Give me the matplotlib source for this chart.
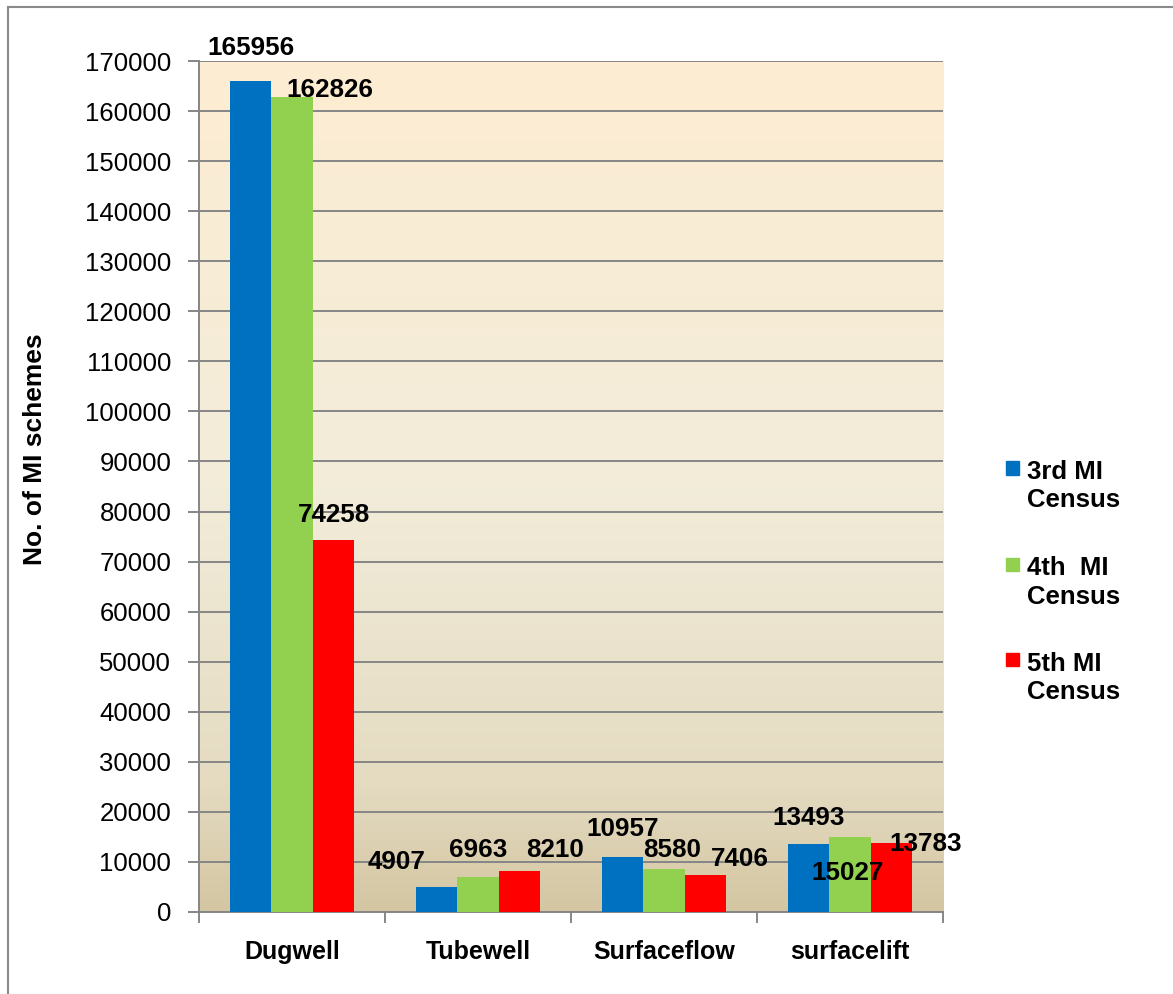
import numpy as np
import matplotlib
matplotlib.use("Agg")
import matplotlib.pyplot as plt
from matplotlib.colors import LinearSegmentedColormap
from matplotlib.patches import Rectangle
from matplotlib.lines import Line2D

# -------------------------
# dados
# -------------------------
categorias = ["Dugwell", "Tubewell", "Surfaceflow", "surfacelift"]
censo_3 = [165956, 4907, 10957, 13493]
censo_4 = [162826, 6963, 8580, 15027]
censo_5 = [74258, 8210, 7406, 13783]
series_nomes = ["3rd MI\nCensus", "4th  MI\nCensus", "5th MI\nCensus"]
y_ticks = list(range(0, 170001, 10000))

cores = ["#0070C0", "#92D050", "#FF0000"]

# deslocamento dos rótulos (px) em relação ao topo da barra, como no original
offsets = [
    [(0, 33), (-40, 25), (0, 28), (0, 26)],
    [(38, 7), (0, 27), (8, 19), (-3, -36)],
    [(0, 25), (36, 21), (34, 16), (34, -1)],
]

plt.rcParams["font.family"] = ["Liberation Sans", "DejaVu Sans"]

fig = plt.figure(figsize=(11.73, 9.94), dpi=100)
ax = fig.add_axes([0.1697, 0.0825, 0.6343, 0.8561])

# fundo em degradê
grad = LinearSegmentedColormap.from_list(
    "fundo",
    [(0.0, (212/255, 198/255, 162/255)),
     (0.15, (228/255, 219/255, 193/255)),
     (0.5, (242/255, 236/255, 218/255)),
     (1.0, (253/255, 237/255, 210/255))])
ax.imshow(np.linspace(0, 1, 256).reshape(-1, 1), cmap=grad, origin="lower",
          aspect="auto", extent=[0, 1, 0, 1], transform=ax.transAxes, zorder=0)

x = np.arange(len(categorias))
larg = 0.223
todas = [censo_3, censo_4, censo_5]
px2pt = 72 / fig.dpi
for i, (vals, cor) in enumerate(zip(todas, cores)):
    pos = x + (i - 1) * larg
    ax.bar(pos, vals, width=larg, color=cor, zorder=3)
    for j, v in enumerate(vals):
        dx, dy = offsets[i][j]
        ax.annotate(str(v), xy=(pos[j], v), xytext=(dx * px2pt, dy * px2pt),
                    textcoords="offset points", ha="center", va="center",
                    fontsize=18.7, fontweight="bold", zorder=5,
                    annotation_clip=False)

ax.set_xlim(-0.5, len(categorias) - 0.5)
ax.set_ylim(0, 170000)
ax.set_yticks(y_ticks)
ax.set_yticklabels([str(t) for t in y_ticks], fontsize=18.5)
ax.yaxis.grid(True, color="#868686", linewidth=1.4, zorder=1)
ax.set_axisbelow(True)

ax.set_xticks(x)
ax.set_xticklabels(categorias, fontsize=18, fontweight="bold")
ax.set_xticks(np.arange(-0.5, len(categorias), 1), minor=True)
ax.tick_params(axis="x", which="major", length=0, pad=20)
ax.tick_params(axis="x", which="minor", length=8, color="#868686", width=1.4, direction="out")
ax.tick_params(axis="y", length=8, color="#868686", width=1.4, pad=12)

for s in ["top", "right"]:
    ax.spines[s].set_visible(False)
for s in ["left", "bottom"]:
    ax.spines[s].set_color("#868686")
    ax.spines[s].set_linewidth(1.4)

fig.text(0.030, 0.548, "No. of MI schemes", rotation=90, ha="center", va="center",
         fontsize=19, fontweight="bold")

# legenda
leg_y = [0.529, 0.432, 0.336]
for nome, cor, yy in zip(series_nomes, cores, leg_y):
    fig.patches.append(Rectangle((0.8576, yy - 0.0065), 0.0115, 0.0135,
                                 transform=fig.transFigure, color=cor))
    fig.text(0.8755, yy + 0.0085, nome, ha="left", va="top", fontsize=18.5,
             fontweight="bold", linespacing=1.25)

# moldura externa
fig.add_artist(Line2D([0.0072, 1.0], [0.9925, 0.9925], color="#8a8a8a", linewidth=1.5,
                      transform=fig.transFigure))
fig.add_artist(Line2D([0.0072, 0.0072], [0.0, 0.9925], color="#8a8a8a", linewidth=1.5,
                      transform=fig.transFigure))

fig.savefig("out.png", dpi=100)
